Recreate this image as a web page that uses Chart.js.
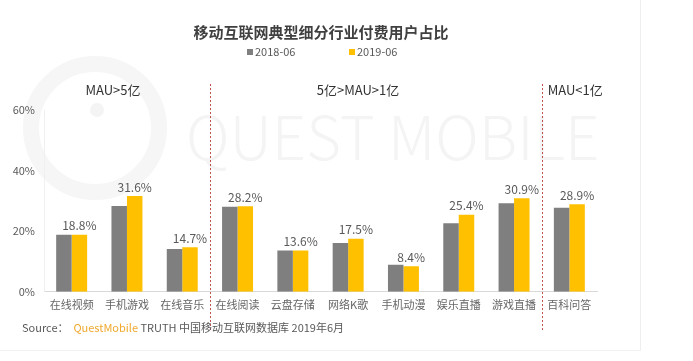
<!DOCTYPE html>
<html>
<head>
<meta charset="utf-8">
<script src="https://cdn.jsdelivr.net/npm/chart.js@4.4.0/dist/chart.umd.min.js"></script>
<style>
html, body { margin: 0; padding: 0; background: #fff; }
#wrap { position: relative; width: 693px; height: 361px; overflow: hidden; }
#edge { position: absolute; left: 640px; top: 0; width: 1px; height: 350px; background: #eeeeee; }
#foot { position: absolute; left: 0; top: 350px; width: 641px; height: 1px; background: #f2f2f2; }
</style>
</head>
<body>
<div id="wrap">
  <canvas id="chart" width="693" height="361"></canvas>
  <div id="edge"></div>
  <div id="foot"></div>
</div>
<script>
const categories = ["在线视频", "手机游戏", "在线音乐", "在线阅读", "云盘存储", "网络K歌", "手机动漫", "娱乐直播", "游戏直播", "百科问答"];
const series2018 = [18.8, 28.3, 14.1, 28.1, 13.6, 16.1, 8.9, 22.6, 29.2, 27.7];
const series2019 = [18.8, 31.6, 14.7, 28.2, 13.6, 17.5, 8.4, 25.4, 30.9, 28.9];
const seriesNames = ["2018-06", "2019-06"];
const yTicks = [0, 20, 40, 60];
const groupNames = ["MAU>5亿", "5亿>MAU>1亿", "MAU<1亿"];
const groupStarts = [0, 3, 9];
const chartTitle = "移动互联网典型细分行业付费用户占比";

const GRAY = "#7f7f7f";
const GOLD = "#ffc000";
const FONT = "'Noto Sans CJK SC', 'Noto Sans', sans-serif";

const overlay = {
    id: "overlay",
    beforeDraw(chart) {
        const ctx = chart.ctx;
        ctx.save();
        // faint watermark behind everything
        ctx.strokeStyle = "#f6f6f6";
        ctx.lineWidth = 16;
        ctx.beginPath();
        ctx.arc(95, 128, 64, 0, Math.PI * 2);
        ctx.stroke();
        ctx.fillStyle = "#f4f4f4";
        ctx.beginPath();
        ctx.arc(97, 110, 7, 0, Math.PI * 2);
        ctx.fill();
        ctx.font = "300 60px " + FONT;
        ctx.textAlign = "left";
        ctx.textBaseline = "alphabetic";
        ctx.fillText("QUEST MOBILE", 186, 160);
        ctx.restore();
    },
    afterDatasetsDraw(chart) {
        const ctx = chart.ctx;
        const x = chart.scales.x;
        ctx.save();

        // title
        ctx.fillStyle = "#404040";
        ctx.font = "bold 15px " + FONT;
        ctx.textAlign = "center";
        ctx.textBaseline = "middle";
        ctx.fillText(chartTitle, 321, 32);

        // value labels on the 2019 bars
        const meta = chart.getDatasetMeta(1);
        ctx.fillStyle = "#595959";
        ctx.font = "12px " + FONT;
        ctx.textBaseline = "bottom";
        meta.data.forEach((bar, i) => {
            ctx.fillText(series2019[i].toFixed(1) + "%", bar.x, bar.y - 3);
        });

        // legend
        ctx.font = "11px " + FONT;
        ctx.textBaseline = "middle";
        ctx.textAlign = "left";
        const legendX = [247, 349];
        [GRAY, GOLD].forEach((c, i) => {
            ctx.fillStyle = c;
            ctx.fillRect(legendX[i], 49, 6, 6);
            ctx.fillStyle = "#595959";
            ctx.fillText(seriesNames[i], legendX[i] + 8, 52);
        });

        // group dividers
        const divX = groupStarts.slice(1).map(s => (x.getPixelForValue(s - 1) + x.getPixelForValue(s)) / 2);
        ctx.strokeStyle = "#c0504d";
        ctx.lineWidth = 1;
        ctx.setLineDash([2, 2]);
        divX.forEach(dx => {
            ctx.beginPath();
            ctx.moveTo(Math.round(dx) + 0.5, 84);
            ctx.lineTo(Math.round(dx) + 0.5, 332);
            ctx.stroke();
        });
        ctx.setLineDash([]);

        // group labels
        ctx.fillStyle = "#333333";
        ctx.font = "13px " + FONT;
        ctx.textAlign = "center";
        ctx.fillText(groupNames[0], 113, 90);
        ctx.fillText(groupNames[1], 358, 90);
        ctx.textAlign = "left";
        ctx.fillText(groupNames[2], divX[1] + 6, 90);

        // source line
        ctx.font = "11px " + FONT;
        let sx = 22;
        const parts = [["Source：  ", "#595959"], ["QuestMobile", "#f0a92e"], [" TRUTH 中国移动互联网数据库 2019年6月", "#595959"]];
        parts.forEach(([t, c]) => {
            ctx.fillStyle = c;
            ctx.fillText(t, sx, 328);
            sx += ctx.measureText(t).width;
        });
        ctx.restore();
    }
};

new Chart(document.getElementById("chart"), {
    type: "bar",
    data: {
        labels: categories,
        datasets: [
            { label: seriesNames[0], data: series2018, backgroundColor: GRAY },
            { label: seriesNames[1], data: series2019, backgroundColor: GOLD }
        ]
    },
    options: {
        responsive: false,
        animation: false,
        layout: { padding: { left: 6, right: 96, top: 110, bottom: 44 } },
        datasets: { bar: { barPercentage: 1, categoryPercentage: 0.56 } },
        plugins: {
            legend: { display: false },
            tooltip: { enabled: false },
            title: { display: false }
        },
        scales: {
            x: {
                grid: { display: false, drawTicks: false },
                border: { color: "#d9d9d9" },
                ticks: { color: "#666666", font: { family: FONT, size: 11 }, padding: 6, maxRotation: 0 }
            },
            y: {
                min: 0,
                max: 60,
                afterBuildTicks(axis) { axis.ticks = yTicks.map(v => ({ value: v })); },
                afterFit(axis) { axis.width = 38; },
                grid: { display: false, drawTicks: false },
                border: { color: "#f0f0f0" },
                ticks: { color: "#595959", font: { family: FONT, size: 11 }, padding: 9, callback: v => v + "%" }
            }
        }
    },
    plugins: [overlay]
});
</script>
</body>
</html>
